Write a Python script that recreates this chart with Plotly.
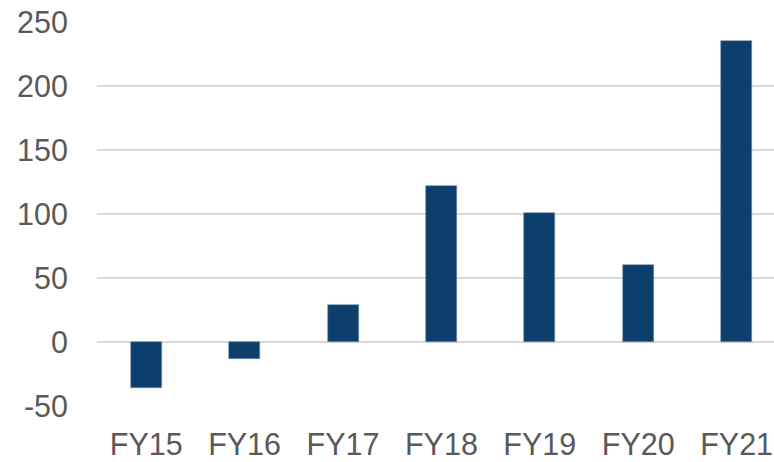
import plotly.graph_objects as go

# Annual values by fiscal year
years = ["FY15", "FY16", "FY17", "FY18", "FY19", "FY20", "FY21"]
values = [-36, -13, 29, 122, 101, 60, 235]
y_ticks = [-50, 0, 50, 100, 150, 200, 250]

bar_color = "#0C3F6B"
text_color = "#595959"
grid_color = "#D9D9D9"

fig = go.Figure(
    go.Bar(
        x=years,
        y=values,
        width=0.315,
        marker=dict(color=bar_color, line=dict(color="#6F8FAD", width=0.6)),
    )
)

fig.update_layout(
    width=774,
    height=462,
    margin=dict(l=97, r=0, t=22, b=56),
    paper_bgcolor="white",
    plot_bgcolor="white",
    showlegend=False,
    bargap=0,
    font=dict(family="Liberation Sans, Arial, sans-serif", size=30, color=text_color),
)

fig.update_xaxes(
    range=[-0.5, 6.38],
    showgrid=False,
    showline=False,
    zeroline=False,
    ticks="",
    ticklabelstandoff=17,
    tickfont=dict(size=30.5, color=text_color),
)

fig.update_yaxes(
    range=[-50, 250],
    tickvals=y_ticks,
    ticktext=[str(v) for v in y_ticks],
    showgrid=True,
    gridcolor=grid_color,
    gridwidth=1.5,
    zeroline=True,
    zerolinecolor=grid_color,
    zerolinewidth=1.5,
    showline=False,
    ticks="",
    ticklabelstandoff=28,
    tickfont=dict(size=30.5, color=text_color),
)

fig.write_html("out.html")
